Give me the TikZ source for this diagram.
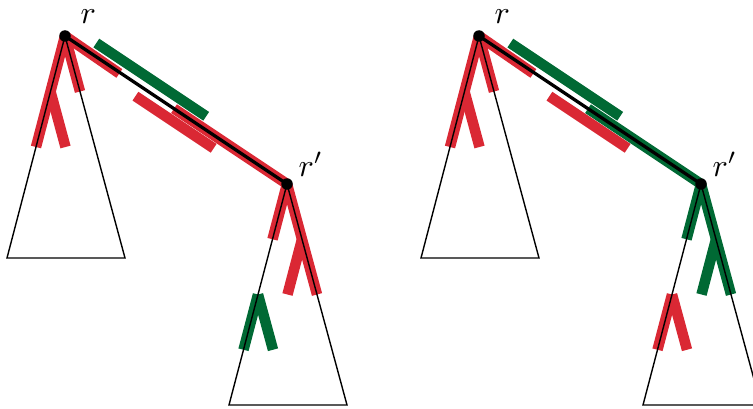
\documentclass[tikz,border=0pt]{standalone}
\usepackage{tikz}
\usetikzlibrary{calc}

\definecolor{walkred}{RGB}{218,40,52}
\definecolor{walkgreen}{RGB}{0,105,52}

\begin{document}
\begin{tikzpicture}[x=1pt,y=1pt,
                    tree/.style={line width=1.4pt},
                    walk/.style={line width=10.5pt,line cap=butt},
                    vertex/.style={circle,fill=black,inner sep=0pt,minimum size=11.5pt},
                    root label/.style={scale=3.2,inner sep=0pt,anchor=base west}]

  \useasboundingbox (0,0) rectangle (753,408);
  \clip (0,0) rectangle (753,408);

  \foreach \dx/\ca/\cb in {0/walkred/walkgreen, 414/walkgreen/walkred}{
  \begin{scope}[xshift=\dx]
    \coordinate (r)  at (65,372);
    \coordinate (rp) at (287,224);
    \coordinate (a1) at (7,150);
    \coordinate (a2) at (125,150);
    \coordinate (b1) at (229,3);
    \coordinate (b2) at (347,3);

    % walks in the upper tree
    \draw[walk,walkred] (r) -- ($(r)!0.5!(a1)$);
    \draw[walk,walkred] (r) -- ($(r)!0.25!(a2)$);
    \draw[walk,walkred] ($(r)!0.25!(a1)$) -- ($(r)!0.25!(a1)+0.25*(a2)-0.25*(r)$);

    % walks along the edge r -- r'
    \draw[walk,walkred] (r) -- ($(r)!66pt!(rp)!-1pt!90:(rp)$);
    \draw[walk,walkred] ($(r)!92pt!(rp)!-11pt!90:(rp)$) -- ($(r)!186pt!(rp)!-11pt!90:(rp)$);
    \draw[walk,walkgreen] ($(r)!30pt!(rp)!11.5pt!90:(rp)$) -- ($(r)!162pt!(rp)!11.5pt!90:(rp)$);
    \draw[walk,\ca] ($(r)!131pt!(rp)$) -- (rp);

    % walks in the lower tree
    \draw[walk,\ca] (rp) -- ($(rp)!0.25!(b1)$);
    \draw[walk,\ca] (rp) -- ($(rp)!0.5!(b2)$);
    \draw[walk,\ca] ($(rp)!0.25!(b2)$) -- ($(rp)!0.25!(b2)+0.25*(b1)-0.25*(rp)$);
    \draw[walk,\cb] ($(rp)!0.5!(b1)$) -- ($(rp)!0.75!(b1)$);
    \draw[walk,\cb] ($(rp)!0.5!(b1)$) -- ($(rp)!0.5!(b1)+0.25*(b2)-0.25*(rp)$);

    % trees and edge
    \draw[tree] (r) -- (a1) -- (a2) -- cycle;
    \draw[tree] (rp) -- (b1) -- (b2) -- cycle;
    \draw[line width=3.2pt] (r) -- (rp);
    \node[vertex] (dr)  at (r)  {};
    \node[vertex] (drp) at (rp) {};

    \node[root label] (lr)  at (80,385) {$r$};
    \node[root label] (lrp) at (298,232) {$r'$};
  \end{scope}}
\end{tikzpicture}
\end{document}
